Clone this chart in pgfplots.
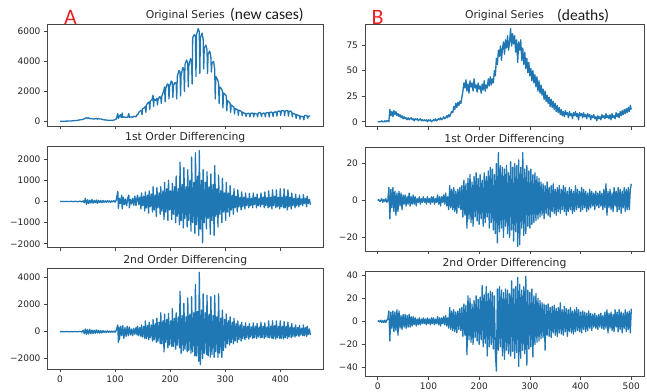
\documentclass[border=0pt]{standalone}
\usepackage{pgfplots}
\pgfplotsset{compat=1.18}
\usepackage{fontspec}
\setmainfont{DejaVu Sans}
\newfontfamily\calfont{Carlito}
\definecolor{mplblue}{RGB}{31,119,180}
\definecolor{axgray}{RGB}{70,70,70}
\definecolor{lblred}{RGB}{235,30,35}
\pgfplotsset{mpl/.style={
  scale only axis, anchor=north west,
  axis line style={axgray, line width=0.7pt},
  every tick/.append style={axgray, line width=0.7pt},
  tick align=outside, major tick length=3.5pt,
  xtick pos=bottom, ytick pos=left,
  tick label style={font=\fontsize{9}{10}\selectfont, text=black!85},
},
ser/.style={draw=mplblue, line width=1.3pt, mark=none, line join=round}}
\begin{document}
\begin{tikzpicture}[x=1pt,y=1pt]
\useasboundingbox (0,0) rectangle (647,391);
% ---------- A: original new cases
\begin{axis}[mpl, at={(47.5pt,367pt)}, width=275.5pt, height=102pt,
  xmin=-22.75, xmax=477.75, ymin=-310, ymax=6510,
  xtick={0,100,200,300,400}, xticklabels={,,,,},
  ytick={0,2000,4000,6000}, yticklabels={0,2000,4000,6000}]
\addplot[ser] coordinates {(0,5)(3,8)(6,10)(9,12)(12,15)(15,20)(18,25)(21,30)(24,40)(27,50)(30,60)(33,80)(36,100)(39,110)(42,140)(45,180)(48,250)(50,190)(52,240)(54,170)(57,200)(60,150)(63,170)(66,190)(68,140)(70,200)(72,160)(75,150)(78,120)(81,100)(84,90)(87,70)(90,60)(93,80)(96,70)(99,100)(102,150)(105,520)(106,200)(108,350)(110,450)(111,250)(113,550)(114,250)(117,300)(120,260)(123,280)(125,520)(126,250)(129,300)(132,280)(135,350)(138,300)(140,450)(142,480)
(143,600)(146,700)(148,750)(149,450)(150,850)(153,900)(155,1000)(156,600)(157,1100)(160,1250)(162,1300)(163,800)(164,1350)(167,1450)(169,1750)(170,1000)(171,1500)(174,1400)(176,1550)(177,1100)(178,1450)(181,1650)(183,1600)(184,1200)(185,1700)(188,2000)(190,2300)(191,1300)(192,2200)(195,2500)(197,2450)(198,1500)(199,2300)(202,2700)(204,2600)(205,1600)(206,2400)(209,2600)(211,2500)(212,1500)(213,3000)(216,3400)(218,3300)(219,1700)(220,3100)(223,3600)(225,3500)(226,2000)(227,3800)(230,4100)(232,3900)(233,2300)(234,3700)(237,4200)(239,4000)(240,2500)(241,5600)(244,5800)(246,5700)(247,3000)(248,5800)(251,6200)(253,6000)(254,3200)(255,5600)(258,5900)(260,5500)(261,3500)(262,4900)(265,5100)(267,4800)(268,3200)(269,4500)(272,4700)(274,4300)(275,3300)(276,3900)(279,4000)(281,3500)(282,1500)(283,3000)(286,2800)(288,2600)(289,1200)(290,2300)(293,2200)(295,2000)(296,900)(297,1900)(300,1800)(302,1700)(303,700)(304,1400)(307,1300)(309,1200)(310,600)(311,1100)(314,1000)(316,950)(317,500)(318,850)(321,800)(323,750)(324,400)(325,750)(328,700)(330,650)(331,380)(332,600)(335,550)(337,520)(338,330)(339,500)(342,550)(344,500)(345,300)(346,520)(349,560)(351,500)(352,300)(353,550)(356,500)(358,480)(359,300)(360,550)(363,600)(365,520)(366,320)(367,500)(370,560)(372,520)(373,300)(374,550)(377,600)(379,560)(380,300)(381,600)(384,620)(386,580)(387,320)(388,580)(391,640)(393,600)(394,350)(395,650)(398,700)(400,650)(401,400)(402,700)(405,720)(407,680)(408,380)(409,680)(412,730)(414,700)(415,350)(416,650)(419,700)(421,600)(422,300)(423,550)(426,500)(428,450)(429,200)(430,450)(433,400)(435,380)(436,150)(437,350)(440,320)(442,300)(443,100)(444,380)(447,400)(449,350)(450,200)(451,320)(454,380)};
\end{axis}
% ---------- A: 1st diff
\begin{axis}[mpl, at={(47.5pt,245pt)}, width=275.5pt, height=101pt,
  xmin=-22.75, xmax=477.75, ymin=-2150, ymax=2620,
  xtick={0,100,200,300,400}, xticklabels={,,,,},
  ytick={-2000,-1000,0,1000,2000}, yticklabels={−2000,−1000,0,1000,2000}]
\addplot[ser] coordinates {(0,0)(4,5)(8,-5)(12,5)(16,-5)(20,8)(24,-8)(28,10)(32,-10)(36,15)(40,-20)(42,30)(44,-60)(46,150)(48,-140)(50,80)(52,-100)(54,60)(56,-70)(58,90)(60,-80)(62,50)(64,-60)(66,70)(68,-90)(70,60)(72,-50)(74,40)(76,-60)(78,50)(80,-40)(82,30)(84,-40)(86,40)(88,-30)(90,30)(92,-40)(94,30)(96,-20)(98,40)(100,-30)(102,60)(105,480)(106,-320)(108,150)(110,-100)(112,300)(113,-350)(115,200)(117,-150)(119,120)(121,-200)(123,150)(125,300)(126,-300)(128,100)(130,-120)(132,150)(134,-180)(136,250)(138,-200)(140,200)
(141,300)(143,-150)(145,200)(147,-350)(148,400)(150,-200)(152,250)(154,-450)(155,450)(157,-300)(159,300)(161,-550)(162,500)(164,-250)(166,350)(168,-500)(169,700)(171,-400)(173,300)(175,-700)(176,650)(178,-300)(180,400)(182,-600)(183,700)(185,-450)(187,500)(189,-850)(190,900)(192,-500)(194,600)(196,-900)(197,1000)(199,-400)(201,500)(203,-850)(204,850)(206,-600)(208,700)(210,-1000)(211,1200)(213,-700)(215,600)(217,-1100)(218,1850)(220,-900)(222,800)(224,-1250)(225,1600)(227,-800)(229,700)(231,-1200)(232,1500)(234,-900)(236,1000)(238,-1400)(239,2100)(241,-1000)(243,900)(245,-1500)(246,2300)(248,-1100)(250,1200)(252,-1600)(253,2400)(255,-1300)(257,1000)(259,-1950)(260,1500)(262,-1000)(264,900)(266,-1300)(267,1400)(269,-800)(271,700)(273,-1550)(274,1300)(276,-900)(278,800)(280,-1600)(281,1700)(283,-700)(285,600)(287,-1200)(288,1250)(290,-600)(292,500)(294,-1000)(295,1100)(297,-500)(299,400)(301,-900)(302,900)(304,-500)(306,400)(308,-700)(309,750)(311,-400)(313,300)(315,-600)(316,600)(318,-300)(320,250)(322,-500)(323,550)(325,-250)(327,200)(329,-400)(330,450)(332,-250)(334,200)(336,-350)(337,400)(339,-200)(341,150)(343,-300)(344,380)(346,-200)(348,150)(350,-300)(351,400)(353,-150)(355,200)(357,-300)(358,350)(360,-200)(362,150)(364,-250)(365,400)(367,-150)(369,200)(371,-300)(372,450)(374,-200)(376,180)(378,-300)(379,500)(381,-250)(383,200)(385,-350)(386,550)(388,-200)(390,250)(392,-300)(393,550)(395,-250)(397,200)(399,-350)(400,600)(402,-250)(404,200)(406,-300)(407,600)(409,-300)(411,250)(413,-400)(414,550)(416,-250)(418,200)(420,-350)(421,400)(423,-200)(425,150)(427,-300)(428,350)(430,-200)(432,150)(434,-250)(435,300)(437,-150)(439,120)(441,-200)(442,320)(444,-100)(446,150)(448,-250)(449,250)(451,-100)(453,100)(455,-150)};
\end{axis}
% ---------- A: 2nd diff
\begin{axis}[mpl, at={(47.5pt,123pt)}, width=275.5pt, height=101pt,
  xmin=-22.75, xmax=477.75, ymin=-2770, ymax=4720,
  xtick={0,100,200,300,400}, xticklabels={0,100,200,300,400},
  ytick={-2000,0,2000,4000}, yticklabels={−2000,0,2000,4000}]
\addplot[ser] coordinates {(0,0)(4,3)(8,-3)(12,5)(16,-5)(20,5)(24,-8)(28,10)(32,-10)(36,20)(40,-30)(42,100)(44,-150)(46,200)(48,-200)(50,150)(52,-180)(54,180)(56,-150)(58,120)(60,-140)(62,100)(64,-120)(66,130)(68,-100)(70,90)(72,-110)(74,80)(76,-90)(78,70)(80,-60)(82,50)(84,-70)(86,60)(88,-50)(90,40)(92,-50)(94,40)(96,-40)(98,50)(100,-40)(102,80)(105,500)(106,-800)(107,300)(108,-600)(110,400)(112,-300)(114,450)(116,-500)(118,300)(120,-350)(122,400)(124,-300)(126,350)(128,-250)(130,200)(132,-300)(134,250)(136,-200)(138,300)(140,-250)
(141,400)(143,-300)(145,300)(147,-350)(148,500)(150,-400)(152,400)(154,-500)(155,800)(157,-500)(159,450)(161,-600)(162,700)(164,-450)(166,500)(168,-700)(169,900)(171,-600)(173,600)(175,-800)(176,1000)(178,-700)(180,700)(182,-900)(183,1400)(185,-900)(187,800)(189,-1500)(190,1300)(192,-800)(194,900)(196,-1200)(197,1350)(199,-1000)(201,800)(203,-1100)(204,1700)(206,-1100)(208,1000)(210,-1300)(211,1400)(213,-1000)(215,1100)(217,-1200)(218,3000)(220,-1600)(222,1200)(224,-1400)(225,2100)(227,-1300)(229,1100)(231,-1500)(232,2500)(234,-1400)(236,1300)(238,-1600)(239,2600)(241,-1500)(243,1400)(245,-1800)(246,3500)(248,-1800)(250,1500)(252,-2200)(253,4400)(255,-2450)(257,1600)(259,-2000)(260,2800)(262,-1600)(264,1400)(266,-1700)(267,2700)(269,-1800)(271,1300)(273,-1900)(274,2600)(276,-1700)(278,1200)(280,-1900)(281,2700)(283,-1500)(285,1100)(287,-1900)(288,2800)(290,-1600)(292,1000)(294,-1900)(295,1600)(297,-1400)(299,900)(301,-1200)(302,1300)(304,-900)(306,800)(308,-1000)(309,1100)(311,-800)(313,700)(315,-900)(316,1000)(318,-700)(320,600)(322,-800)(323,800)(325,-600)(327,500)(329,-700)(330,700)(332,-500)(334,400)(336,-600)(337,650)(339,-450)(341,400)(343,-550)(344,600)(346,-400)(348,350)(350,-500)(351,650)(353,-450)(355,400)(357,-500)(358,600)(360,-400)(362,350)(364,-450)(365,700)(367,-450)(369,400)(371,-500)(372,650)(374,-400)(376,350)(378,-450)(379,800)(381,-450)(383,400)(385,-500)(386,800)(388,-500)(390,450)(392,-550)(393,800)(395,-450)(397,400)(399,-500)(400,800)(402,-500)(404,400)(406,-550)(407,750)(409,-450)(411,400)(413,-500)(414,700)(416,-400)(418,350)(420,-450)(421,600)(423,-350)(425,300)(427,-400)(428,500)(430,-300)(432,300)(434,-350)(435,450)(437,-250)(439,250)(441,-300)(442,500)(444,-300)(446,300)(448,-350)(449,400)(451,-200)(453,200)(455,-250)};
\end{axis}
% ---------- B: original deaths
\begin{axis}[mpl, at={(365pt,367pt)}, width=279pt, height=102.5pt,
  xmin=-25, xmax=525, ymin=-4.55, ymax=95.5,
  xtick={0,100,200,300,400,500}, xticklabels={,,,,,},
  ytick={0,25,50,75}, yticklabels={0,25,50,75}]
\addplot[ser] coordinates {(0,0)(2,0)(4,0)(6,0)(8,1)(10,0)(12,0)(14,1)(16,0)(18,1)(20,1)(22,0)(24,12)(26,6)(28,10)(30,5)(32,11)(34,7)(36,10)(38,6)(40,8)(42,5)(44,7)(46,4)(48,6)(50,3)(52,5)(54,3)(56,4)(58,2)(60,4)(62,2)(64,3)(66,4)(68,2)(70,3)(72,1)(74,3)(76,2)(78,3)(80,1)(82,2)(84,3)(86,1)(88,2)(90,1)(92,2)(94,1)(96,2)(98,0)(100,2)(102,1)(104,2)(106,0)(108,1)(110,2)(112,1)(114,3)(116,1)(118,2)(120,3)(122,2)(124,4)(126,2)(128,3)(130,5)(132,3)(134,4)(136,6)(138,4)(140,7)(142,5)(144,8)(146,10)(148,9)(150,15)(152,12)(154,18)(156,14)(158,19)(160,16)(162,20)(164,18)(166,24)(168,30)(170,38)(172,33)(174,41)(176,30)(178,37)(180,28)(182,40)(184,34)(186,38)(188,30)(190,42)(192,33)(194,36)(196,29)(198,38)(200,32)(202,35)(204,28)(206,37)(208,31)(210,40)(212,30)(214,36)(216,33)(218,42)(220,35)(222,44)(224,36)(226,42)(228,38)(230,50)(232,45)(234,62)(236,56)(238,70)(240,64)(242,74)(244,60)(246,72)(248,78)(250,66)(252,80)(254,72)(256,84)(258,70)(260,78)(262,91)(264,74)(266,86)(268,76)(270,84)(272,68)(274,80)(276,58)(278,78)(280,70)(282,80)(284,60)(286,72)(288,56)(290,68)(292,52)(294,62)(296,48)(298,58)(300,45)(302,52)(304,40)(306,50)(308,38)(310,46)(312,34)(314,44)(316,30)(318,40)(320,28)(322,36)(324,26)(326,32)(328,22)(330,30)(332,20)(334,26)(336,18)(338,24)(340,15)(342,22)(344,14)(346,20)(348,12)(350,18)(352,10)(354,16)(356,9)(358,14)(360,7)(362,12)(364,6)(366,10)(368,5)(370,11)(372,7)(374,9)(376,4)(378,10)(380,6)(382,8)(384,3)(386,9)(388,6)(390,10)(392,5)(394,8)(396,2)(398,9)(400,6)(402,8)(404,4)(406,9)(408,5)(410,7)(412,3)(414,8)(416,5)(418,7)(420,2)(422,6)(424,4)(426,7)(428,3)(430,5)(432,1)(434,6)(436,3)(438,5)(440,2)(442,7)(444,4)(446,6)(448,3)(450,8)(452,4)(454,6)(456,3)(458,7)(460,2)(462,8)(464,4)(466,6)(468,3)(470,9)(472,5)(474,8)(476,4)(478,10)(480,6)(482,11)(484,7)(486,12)(488,8)(490,13)(492,9)(494,14)(496,10)(498,16)(500,12)};
\end{axis}
% ---------- B: 1st diff
\begin{axis}[mpl, at={(365pt,243.3pt)}, width=279pt, height=103.3pt,
  xmin=-25, xmax=525, ymin=-27.4, ymax=28.6,
  xtick={0,100,200,300,400,500}, xticklabels={,,,,,},
  ytick={-20,0,20}, yticklabels={−20,0,20}]
\addplot[ser] coordinates {(0,0)(2,0.5)(4,-0.5)(6,0)(8,1)(10,-1)(12,0.5)(14,-0.5)(16,1)(18,-1)(20,0)(22,7)(24,-10)(26,6)(28,-4)(30,7)(32,-6)(34,5)(36,-8)(38,4)(40,-6)(42,5)(44,-3)(46,4)(48,-5)(50,3)(52,-2)(54,3)(56,-3)(58,2)(60,-2)(62,4)(64,-3)(66,2)(68,-2)(70,3)(72,-2)(74,2)(76,-3)(78,1)(80,-1)(82,2)(84,-2)(86,1)(88,-1)(90,2)(92,-1)(94,1)(96,-2)(98,2)(100,-1)(102,1)(104,-2)(106,2)(108,-1)(110,2)(112,-2)(114,1)(116,-1)(118,3)(120,-2)(122,2)(124,-3)(126,2)(128,-1)(130,3)(132,-2)(134,4)(136,-3)(138,2)(140,-5)(142,8)(144,-4)(146,6)(148,-5)(150,7)(152,-6)(154,5)(156,-7)(158,6)(160,-4)(162,7)(164,-5)(166,8)(168,-9)(170,11)(172,-8)(174,9)(176,-15)(178,12)(180,-10)(182,14)(184,-12)(186,10)(188,-14)(190,13)(192,-9)(194,15)(196,-11)(198,12)(200,-13)(202,14)(204,-10)(206,11)(208,-14)(210,15)(212,-12)(214,13)(216,-9)(218,16)(220,-15)(222,18)(224,-12)(226,17)(228,-16)(230,14)(232,-18)(234,20)(236,-23)(238,26)(240,-17)(242,19)(244,-15)(246,18)(248,-20)(250,17)(252,-14)(254,19)(256,-18)(258,15)(260,-20)(262,21)(264,-16)(266,18)(268,-22)(270,20)(272,-17)(274,19)(276,-25)(278,22)(280,-24)(282,18)(284,-15)(286,26)(288,-19)(290,17)(292,-18)(294,19)(296,-14)(298,16)(300,-15)(302,17)(304,-13)(306,14)(308,-12)(310,15)(312,-11)(314,13)(316,-10)(318,12)(320,-9)(322,10)(324,-8)(326,9)(328,-10)(330,8)(332,-7)(334,10)(336,-8)(338,7)(340,-9)(342,8)(344,-6)(346,9)(348,-7)(350,6)(352,-8)(354,7)(356,-6)(358,8)(360,-7)(362,6)(364,-5)(366,8)(368,-6)(370,7)(372,-8)(374,5)(376,-6)(378,7)(380,-5)(382,6)(384,-7)(386,5)(388,-6)(390,8)(392,-5)(394,6)(396,-4)(398,5)(400,-6)(402,7)(404,-5)(406,6)(408,-4)(410,5)(412,-6)(414,4)(416,-5)(418,6)(420,-4)(422,5)(424,-3)(426,4)(428,-5)(430,5)(432,-3)(434,4)(436,-4)(438,5)(440,-3)(442,4)(444,-5)(446,6)(448,-4)(450,9)(452,-8)(454,5)(456,-4)(458,6)(460,-5)(462,4)(464,-6)(466,7)(468,-3)(470,5)(472,-6)(474,7)(476,-5)(478,6)(480,-7)(482,5)(484,-4)(486,7)(488,-6)(490,6)(492,-5)(494,7)(496,-5)(498,6)(500,9)};
\end{axis}
% ---------- B: 2nd diff
\begin{axis}[mpl, at={(365pt,119.5pt)}, width=279pt, height=104.5pt,
  xmin=-25, xmax=525, ymin=-47.3, ymax=43.1,
  xtick={0,100,200,300,400,500}, xticklabels={0,100,200,300,400,500},
  ytick={-40,-20,0,20,40}, yticklabels={−40,−20,0,20,40}]
\addplot[ser] coordinates {(0,0)(2,0.5)(4,-0.5)(6,1)(8,-1)(10,0.5)(12,-1)(14,1)(16,-1)(18,1)(20,2)(22,9)(24,-17)(26,8)(28,-6)(30,9)(32,-9)(34,8)(36,-8)(38,10)(40,-12)(42,9)(44,-6)(46,5)(48,-7)(50,6)(52,-5)(54,6)(56,-6)(58,5)(60,-5)(62,6)(64,-5)(66,4)(68,-4)(70,4)(72,-3)(74,3)(76,-4)(78,2)(80,-3)(82,3)(84,-3)(86,2)(88,-2)(90,3)(92,-2)(94,2)(96,-3)(98,3)(100,-2)(102,2)(104,-3)(106,3)(108,-2)(110,3)(112,-3)(114,2)(116,-2)(118,4)(120,-3)(122,3)(124,-4)(126,3)(128,-2)(130,4)(132,-3)(134,5)(136,-4)(138,3)(140,-6)(142,12)(144,-7)(146,9)(148,-8)(150,10)(152,-9)(154,8)(156,-10)(158,9)(160,-7)(162,11)(164,-8)(166,12)(168,-13)(170,15)(172,-12)(174,14)(176,-29)(178,22)(180,-16)(182,20)(184,-18)(186,15)(188,-20)(190,18)(192,-14)(194,22)(196,-17)(198,19)(200,-20)(202,21)(204,-16)(206,31)(208,-22)(210,23)(212,-19)(214,30)(216,-30)(218,24)(220,-22)(222,26)(224,-20)(226,25)(228,-24)(230,22)(232,-27)(234,-43)(236,28)(238,-25)(240,30)(242,-22)(244,27)(246,-30)(248,25)(250,-33)(252,28)(254,-25)(256,27)(258,-28)(260,24)(262,-30)(264,35)(266,-26)(268,28)(270,-32)(272,30)(274,-27)(276,38)(278,-39)(280,32)(282,-32)(284,27)(286,-25)(288,30)(290,-28)(292,39)(294,-38)(296,27)(298,-24)(300,25)(302,-22)(304,28)(306,-31)(308,22)(310,-20)(312,24)(314,-18)(316,20)(318,-17)(320,18)(322,-15)(324,16)(326,-14)(328,15)(330,-25)(332,14)(334,-12)(336,15)(338,-13)(340,12)(342,-14)(344,13)(346,-10)(348,14)(350,-12)(352,11)(354,-13)(356,12)(358,-10)(360,16)(362,-11)(364,10)(366,-12)(368,13)(370,-9)(372,11)(374,-13)(376,10)(378,-9)(380,12)(382,-10)(384,9)(386,-11)(388,10)(390,-9)(392,12)(394,-8)(396,10)(398,-9)(400,8)(402,-10)(404,9)(406,-7)(408,8)(410,-9)(412,7)(414,-8)(416,9)(418,-6)(420,7)(422,-8)(424,6)(426,-5)(428,7)(430,-6)(432,5)(434,-7)(436,6)(438,-5)(440,7)(442,-6)(444,5)(446,-7)(448,8)(450,-6)(452,10)(454,-10)(456,7)(458,-6)(460,8)(462,-8)(464,6)(466,-9)(468,10)(470,-5)(472,8)(474,-9)(476,10)(478,-7)(480,8)(482,-10)(484,7)(486,-6)(488,10)(490,-9)(492,8)(494,-7)(496,9)(498,-10)(500,11)};
\end{axis}
% ---------- titles and labels
\tikzset{ttl/.style={anchor=base, inner sep=0pt, font=\fontsize{10.8}{12}\selectfont, text=black!85}}
\node[ttl] at (185.25,372) {Original Series};
\node[ttl] at (185.25,250) {1st Order Differencing};
\node[ttl] at (185.25,128) {2nd Order Differencing};
\node[ttl] at (504.5,372) {Original Series};
\node[ttl] at (504.5,248.3) {1st Order Differencing};
\node[ttl] at (504.5,124.5) {2nd Order Differencing};
\node[anchor=base west, inner sep=0pt, font=\calfont\fontsize{15.5}{17}\selectfont, text=black!90] at (230,371) {(new cases)};
\node[anchor=base west, inner sep=0pt, font=\calfont\fontsize{15.5}{17}\selectfont, text=black!90] at (557,370.5) {(deaths)};
\node[anchor=base west, inner sep=0pt, font=\calfont\fontsize{22}{24}\selectfont, text=lblred] at (64,366) {A};
\node[anchor=base west, inner sep=0pt, font=\calfont\fontsize{22}{24}\selectfont, text=lblred] at (371.5,366) {B};
\end{tikzpicture}
\end{document}
